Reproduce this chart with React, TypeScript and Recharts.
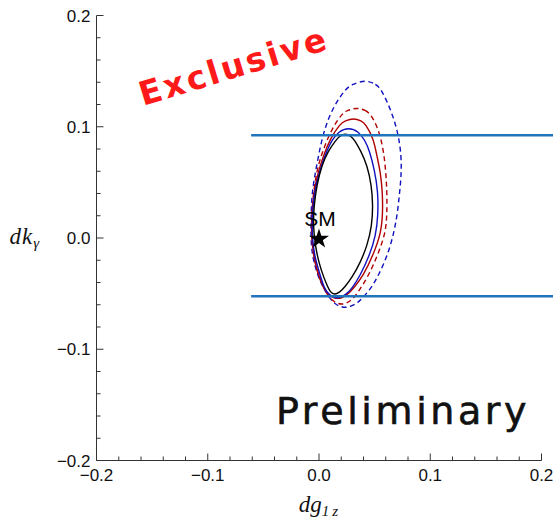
import React from 'react';
import { LineChart, Line, XAxis, YAxis, ReferenceLine, ReferenceDot } from 'recharts';

const W = 553;
const H = 523;

// tick positions (every 0.02, labels on multiples of 0.1)
const axisTicks = [-0.2, -0.18, -0.16, -0.14, -0.12, -0.1, -0.08, -0.06, -0.04, -0.02, 0, 0.02, 0.04, 0.06, 0.08, 0.1, 0.12, 0.14, 0.16, 0.18, 0.2];
const axisDomain = [-0.2, 0.2];

// horizontal band limits
const bandUpper = 0.0924;
const bandLower = -0.0523;
const bandStart = -0.061;
const bandEnd = 0.215;

// SM point
const smPoint = { x: 0, y: 0 };

// closed contours (clockwise from the top)
const blackSolid = [
  { x: 0.0236, y: 0.0942 }, { x: 0.029, y: 0.0914 }, { x: 0.0321, y: 0.0878 }, { x: 0.0373, y: 0.0788 },
  { x: 0.0434, y: 0.0653 }, { x: 0.0472, y: 0.0473 }, { x: 0.0485, y: 0.0293 }, { x: 0.0476, y: 0.0114 },
  { x: 0.0434, y: -0.0066 }, { x: 0.0372, y: -0.0219 }, { x: 0.0303, y: -0.0345 }, { x: 0.023, y: -0.0444 },
  { x: 0.0191, y: -0.0484 }, { x: 0.0137, y: -0.0514 }, { x: 0.0101, y: -0.0484 }, { x: 0.008, y: -0.0444 },
  { x: 0.0039, y: -0.0345 }, { x: -0.0002, y: -0.0219 }, { x: -0.0034, y: -0.0066 }, { x: -0.0053, y: 0.0114 },
  { x: -0.0045, y: 0.0293 }, { x: -0.002, y: 0.0473 }, { x: 0.0024, y: 0.0653 }, { x: 0.0086, y: 0.0788 },
  { x: 0.0151, y: 0.0878 }, { x: 0.0182, y: 0.0914 },
];

const blueSolid = [
  { x: 0.0266, y: 0.0993 }, { x: 0.0356, y: 0.0959 }, { x: 0.0413, y: 0.0878 }, { x: 0.0453, y: 0.0788 },
  { x: 0.05, y: 0.0608 }, { x: 0.0531, y: 0.041 }, { x: 0.0531, y: 0.0204 }, { x: 0.0511, y: 0.0024 },
  { x: 0.0455, y: -0.0156 }, { x: 0.0371, y: -0.0336 }, { x: 0.0297, y: -0.0453 }, { x: 0.0241, y: -0.0511 },
  { x: 0.0161, y: -0.055 }, { x: 0.009, y: -0.0511 }, { x: 0.0047, y: -0.0453 }, { x: 0.0011, y: -0.0336 },
  { x: -0.0043, y: -0.0156 }, { x: -0.0062, y: 0.0024 }, { x: -0.0061, y: 0.0204 }, { x: -0.0043, y: 0.041 },
  { x: 0.0006, y: 0.0608 }, { x: 0.0071, y: 0.0788 }, { x: 0.0116, y: 0.0878 }, { x: 0.0176, y: 0.0959 },
];

const redSolid = [
  { x: 0.0311, y: 0.1077 }, { x: 0.0382, y: 0.1053 }, { x: 0.0416, y: 0.1028 }, { x: 0.0491, y: 0.0893 },
  { x: 0.0519, y: 0.0743 }, { x: 0.0553, y: 0.059 }, { x: 0.0571, y: 0.041 }, { x: 0.0573, y: 0.0231 },
  { x: 0.056, y: 0.0051 }, { x: 0.0486, y: -0.0156 }, { x: 0.04, y: -0.0336 }, { x: 0.0311, y: -0.0453 },
  { x: 0.0256, y: -0.0511 }, { x: 0.0169, y: -0.0559 }, { x: 0.0083, y: -0.0511 }, { x: 0.0043, y: -0.0453 },
  { x: -0.0004, y: -0.0336 }, { x: -0.0053, y: -0.0156 }, { x: -0.0067, y: 0.0051 }, { x: -0.0063, y: 0.0231 },
  { x: -0.0047, y: 0.041 }, { x: -0.0009, y: 0.059 }, { x: 0.0041, y: 0.0743 }, { x: 0.0101, y: 0.0893 },
  { x: 0.0191, y: 0.1028 }, { x: 0.0233, y: 0.1053 },
];

const redDashed = [
  { x: 0.0341, y: 0.1173 }, { x: 0.0419, y: 0.1147 }, { x: 0.0461, y: 0.1118 }, { x: 0.0535, y: 0.0983 },
  { x: 0.058, y: 0.0788 }, { x: 0.06, y: 0.0608 }, { x: 0.0611, y: 0.041 }, { x: 0.0611, y: 0.0231 },
  { x: 0.0601, y: 0.0051 }, { x: 0.0527, y: -0.0156 }, { x: 0.0446, y: -0.0336 }, { x: 0.0372, y: -0.0455 },
  { x: 0.03, y: -0.0561 }, { x: 0.0206, y: -0.061 }, { x: 0.0106, y: -0.0561 }, { x: 0.0043, y: -0.0455 },
  { x: -0.0007, y: -0.0336 }, { x: -0.0052, y: -0.0156 }, { x: -0.007, y: 0.0051 }, { x: -0.0065, y: 0.0231 },
  { x: -0.0049, y: 0.041 }, { x: -0.002, y: 0.0608 }, { x: 0.0034, y: 0.0788 }, { x: 0.0116, y: 0.0983 },
  { x: 0.0206, y: 0.1118 }, { x: 0.0256, y: 0.1147 },
];

const blueDashed = [
  { x: 0.0416, y: 0.1422 }, { x: 0.0516, y: 0.1381 }, { x: 0.056, y: 0.1336 }, { x: 0.0649, y: 0.1147 },
  { x: 0.0712, y: 0.0941 }, { x: 0.074, y: 0.0743 }, { x: 0.074, y: 0.0563 }, { x: 0.0722, y: 0.0383 },
  { x: 0.0703, y: 0.0204 }, { x: 0.0668, y: 0.0024 }, { x: 0.0616, y: -0.0156 }, { x: 0.0535, y: -0.0336 },
  { x: 0.0467, y: -0.0455 }, { x: 0.0371, y: -0.0561 }, { x: 0.0321, y: -0.0601 }, { x: 0.0236, y: -0.0634 },
  { x: 0.0154, y: -0.0601 }, { x: 0.011, y: -0.0561 }, { x: 0.0041, y: -0.0455 }, { x: -0.0013, y: -0.0336 },
  { x: -0.0063, y: -0.0156 }, { x: -0.0074, y: 0.0024 }, { x: -0.0071, y: 0.0204 }, { x: -0.0065, y: 0.0383 },
  { x: -0.0038, y: 0.0563 }, { x: -0.0004, y: 0.0743 }, { x: 0.0038, y: 0.0941 }, { x: 0.011, y: 0.1147 },
  { x: 0.0232, y: 0.1336 }, { x: 0.0297, y: 0.1381 },
];

const SANS = '"Liberation Sans", Arial, Helvetica, sans-serif';
const SERIF = '"Liberation Serif", "Times New Roman", serif';
const FRAME = '#333';
const BLUE = '#1010c0';
const RED = '#b00000';
const BAND = '#1f74bc';

const isMajor = (v: number) => Math.abs(Math.round(v * 10) - v * 10) < 1e-6;
const fmt = (v: number) => {
  if (Math.abs(v) < 1e-9) return '0.0';
  return (v < 0 ? '\u2212' : '') + Math.abs(v).toFixed(1);
};

const BottomTick = (props: any) => {
  const { x, y, payload } = props;
  const v = payload.value;
  const major = isMajor(v);
  return (
    <g>
      <line x1={x} y1={y} x2={x} y2={y - (major ? 7 : 4)} stroke={FRAME} strokeWidth={1} />
      {major && (
        <text x={x} y={y + 20} textAnchor="middle" fontSize={17} fontFamily={SANS} fill="#111">
          {fmt(v)}
        </text>
      )}
    </g>
  );
};

const TopTick = (props: any) => {
  const { x, y, payload } = props;
  const major = isMajor(payload.value);
  return <line x1={x} y1={y} x2={x} y2={y + (major ? 7 : 4)} stroke={FRAME} strokeWidth={1} />;
};

const LeftTick = (props: any) => {
  const { x, y, payload } = props;
  const v = payload.value;
  const major = isMajor(v);
  return (
    <g>
      <line x1={x} y1={y} x2={x + (major ? 7 : 4)} y2={y} stroke={FRAME} strokeWidth={1} />
      {major && (
        <text x={x - 6} y={y + 6} textAnchor="end" fontSize={17} fontFamily={SANS} fill="#111">
          {fmt(v)}
        </text>
      )}
    </g>
  );
};

const RightTick = (props: any) => {
  const { x, y, payload } = props;
  const major = isMajor(payload.value);
  return <line x1={x} y1={y} x2={x - (major ? 7 : 4)} y2={y} stroke={FRAME} strokeWidth={1} />;
};

const StarShape = (props: any) => {
  const { cx, cy } = props;
  const R = 10.5;
  const r = R * 0.382;
  const pts: string[] = [];
  for (let i = 0; i < 10; i++) {
    const ang = -Math.PI / 2 + (i * Math.PI) / 5;
    const rr = i % 2 === 0 ? R : r;
    pts.push(`${cx + rr * Math.cos(ang)},${cy + 1 + rr * Math.sin(ang)}`);
  }
  return (
    <g>
      <polygon points={pts.join(' ')} fill="#000" />
      <text x={cx + 1} y={cy - 12} textAnchor="middle" fontSize={21} fontFamily={SANS} fill="#000">
        SM
      </text>
    </g>
  );
};

const lineCommon = {
  dataKey: 'y',
  type: 'basisClosed' as const,
  strokeWidth: 1.4,
  dot: false,
  activeDot: false,
  isAnimationActive: false,
};

export default function App() {
  return (
    <div style={{ position: 'relative', width: W, height: H }}>
      <style>{'html { overflow: hidden; } body { margin: 0; }'}</style>
      <LineChart width={W} height={H} margin={{ top: 15.5, right: 11.5, bottom: 0, left: 0 }}>
        <XAxis
          xAxisId={0}
          type="number"
          dataKey="x"
          domain={axisDomain}
          ticks={axisTicks}
          interval={0}
          height={62.5}
          tickSize={0}
          tickMargin={0}
          tickLine={false}
          axisLine={{ stroke: FRAME, strokeWidth: 1 }}
          tick={<BottomTick />}
        />
        <XAxis
          xAxisId="top"
          orientation="top"
          type="number"
          dataKey="x"
          domain={axisDomain}
          ticks={axisTicks}
          interval={0}
          height={0}
          tickSize={0}
          tickMargin={0}
          tickLine={false}
          axisLine={{ stroke: FRAME, strokeWidth: 1 }}
          tick={<TopTick />}
        />
        <YAxis
          yAxisId={0}
          type="number"
          domain={axisDomain}
          ticks={axisTicks}
          interval={0}
          width={96.5}
          tickSize={0}
          tickMargin={0}
          tickLine={false}
          axisLine={{ stroke: FRAME, strokeWidth: 1 }}
          tick={<LeftTick />}
        />
        <YAxis
          yAxisId="right"
          orientation="right"
          type="number"
          domain={axisDomain}
          ticks={axisTicks}
          interval={0}
          width={0}
          tickSize={0}
          tickMargin={0}
          tickLine={false}
          axisLine={{ stroke: FRAME, strokeWidth: 1 }}
          tick={<RightTick />}
        />
        <Line {...lineCommon} data={blueDashed} stroke={BLUE} strokeDasharray="5 3.5" />
        <Line {...lineCommon} data={redDashed} stroke={RED} strokeDasharray="5 3.5" />
        <Line {...lineCommon} data={redSolid} stroke={RED} />
        <Line {...lineCommon} data={blueSolid} stroke={BLUE} />
        <Line {...lineCommon} data={blackSolid} stroke="#000" />
        <ReferenceLine
          segment={[{ x: bandStart, y: bandUpper }, { x: bandEnd, y: bandUpper }]}
          stroke={BAND}
          strokeWidth={2.6}
          ifOverflow="visible"
        />
        <ReferenceLine
          segment={[{ x: bandStart, y: bandLower }, { x: bandEnd, y: bandLower }]}
          stroke={BAND}
          strokeWidth={2.6}
          ifOverflow="visible"
        />
        <ReferenceDot x={smPoint.x} y={smPoint.y} r={10} ifOverflow="visible" shape={StarShape} />
      </LineChart>
      <svg
        width={W}
        height={H}
        style={{ position: 'absolute', left: 0, top: 0, pointerEvents: 'none' }}
      >
        <text x={9.5} y={243.5} fontFamily={SERIF} fontStyle="italic" fontSize={23} letterSpacing={1} fill="#111">
          dk
          <tspan fontSize={15} dy={4}>γ</tspan>
        </text>
        <text x={318.5} y={511.5} textAnchor="middle" fontFamily={SERIF} fontStyle="italic" fontSize={23} fill="#111">
          dg
          <tspan fontSize={15} dy={4}>1{'\u2009'}z</tspan>
        </text>
        <text
          x={143}
          y={106}
          transform="rotate(-17 143 106)"
          fontFamily='"DejaVu Sans", sans-serif'
          fontWeight="bold"
          fontSize={33}
          letterSpacing={2.6}
          fill="#ff1a1a"
        >
          Exclusive
        </text>
        <text
          x={276}
          y={423.5}
          fontFamily='"DejaVu Sans", sans-serif'
          fontSize={38}
          letterSpacing={3.6}
          stroke="#111"
          strokeWidth={0.6}
          fill="#111"
        >
          Preliminary
        </text>
      </svg>
    </div>
  );
}
